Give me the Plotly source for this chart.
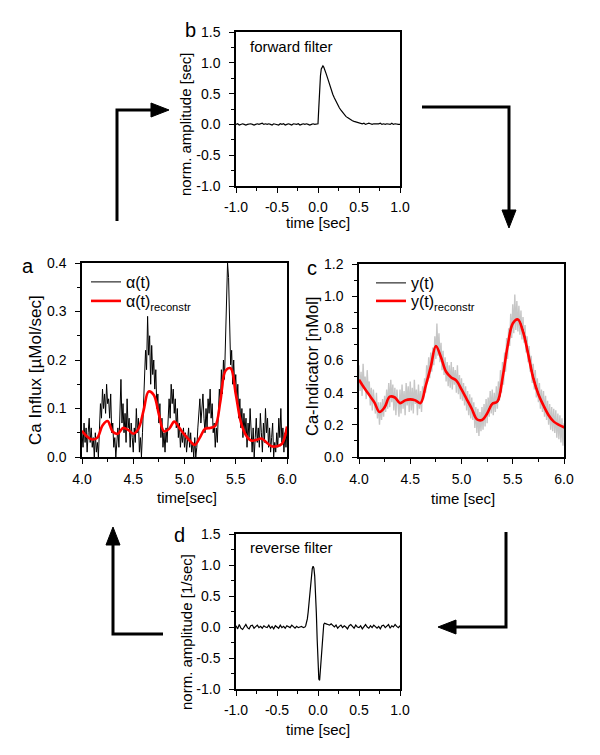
import numpy as np
import plotly.graph_objects as go

# the page body has an 8px margin, so the figure is drawn 8px smaller
# and every position below is given in pixels of the full 600x755 window
OFF = 8
FW, FH = 600 - OFF, 755 - OFF
FONT = "Arial, Liberation Sans, sans-serif"

# ---- panel b: forward filter
fwd_left = [0.00, 0.01, -0.01, 0.00, 0.01, 0.00, -0.01, 0.00, 0.01, 0.01,
            0.00, -0.01, 0.00, 0.01, 0.00, 0.01, 0.02, 0.00, 0.01, 0.00,
            0.01, 0.00, -0.01, 0.01, 0.00, 0.00, -0.01, 0.01, 0.00, 0.01,
            -0.01, 0.00, 0.01, 0.00, -0.01, 0.01, 0.00, 0.00, 0.01, -0.01,
            0.00, 0.01, 0.00, 0.01, 0.00, -0.01, 0.00, 0.01, 0.00, 0.00]
fwd_peak = [0.01, 0.28, 0.58, 0.79, 0.90, 0.94, 0.95, 0.93, 0.90, 0.86, 0.82]
fwd_decay = [0.74, 0.65, 0.57, 0.49, 0.43, 0.37, 0.32, 0.27, 0.23, 0.19,
             0.16, 0.13, 0.11, 0.09, 0.07, 0.06, 0.05, 0.04, 0.03, 0.03]
fwd_right = [0.02, 0.01, 0.02, 0.00, 0.01, 0.02, 0.01, 0.00, 0.01, 0.01,
             0.00, 0.01, 0.02, 0.00, 0.01, 0.00, 0.01, 0.01, 0.00, 0.02,
             0.00, 0.01, 0.00, 0.00, 0.00]
fwd_t = np.concatenate([np.linspace(-1.0, -0.02, len(fwd_left)),
                        np.linspace(0.0, 0.10, len(fwd_peak)),
                        np.linspace(0.12, 0.50, len(fwd_decay)),
                        np.linspace(0.52, 1.0, len(fwd_right))])
fwd_y = fwd_left + fwd_peak + fwd_decay + fwd_right

# ---- panel d: reverse filter
rev_left = [0.02, -0.03, 0.04, -0.02, -0.04, 0.01, 0.04, -0.01, -0.03, 0.02,
            0.03, -0.02, 0.00, 0.03, -0.01, 0.01, -0.02, 0.02, 0.00, -0.01,
            0.03, -0.02, 0.01, -0.03, 0.02, 0.00, -0.02, 0.03, -0.01, 0.01,
            -0.02, 0.02, 0.00, -0.01, 0.03, 0.00, -0.02, 0.01, -0.01, 0.00,
            0.01, -0.01]
rev_mid = [0.00, 0.02, 0.06, 0.13, 0.24, 0.38, 0.54, 0.70, 0.84, 0.94,
           0.98, 0.95, 0.82, 0.58, 0.22, -0.20, -0.58, -0.84, -0.86, -0.68,
           -0.42, -0.18, -0.03, 0.04, 0.06, 0.06, 0.05]
rev_right = [0.04, 0.03, 0.05, 0.02, 0.00, 0.03, -0.02, 0.01, 0.03, -0.01,
             0.02, 0.00, -0.03, 0.02, 0.04, 0.01, -0.02, 0.03, 0.00, -0.01,
             0.02, -0.03, 0.01, 0.04, 0.00, -0.02, 0.02, -0.01, 0.03, 0.00,
             -0.02, 0.01, -0.03, 0.02, 0.03, -0.01, 0.01, 0.04, -0.02, 0.02,
             0.00, 0.04, 0.01, -0.01, 0.02]
rev_t = np.concatenate([np.linspace(-1.0, -0.18, len(rev_left)),
                        np.linspace(-0.16, 0.10, len(rev_mid)),
                        np.linspace(0.12, 1.0, len(rev_right))])
rev_y = rev_left + rev_mid + rev_right

# ---- panel a: Ca influx
alpha = [0.05, 0.02, 0.07, 0.03, 0.06, 0.01, 0.05, 0.08, 0.03, 0.06,
         0.02, 0.04, 0.00, 0.05, 0.01, 0.03, 0.00, 0.06, 0.11, 0.08,
         0.14, 0.10, 0.13, 0.09, 0.15, 0.11, 0.12, 0.08, 0.13, 0.05,
         0.07, 0.02, 0.04, 0.00, 0.03, 0.06, 0.02, 0.10, 0.16, 0.07,
         0.11, 0.05, 0.09, 0.03, 0.12, 0.06, 0.08, 0.02, 0.07, 0.04,
         0.01, 0.06, 0.03, 0.10, 0.05, 0.08, 0.01, 0.04, 0.00, 0.05,
         0.12, 0.17, 0.22, 0.18, 0.29, 0.21, 0.25, 0.15, 0.23, 0.17,
         0.20, 0.14, 0.18, 0.10, 0.13, 0.07, 0.11, 0.04, 0.08, 0.02,
         0.05, 0.01, 0.06, 0.03, 0.09, 0.12, 0.08, 0.15, 0.11, 0.14,
         0.09, 0.12, 0.06, 0.10, 0.04, 0.07, 0.02, 0.05, 0.03, 0.06,
         0.02, 0.05, 0.01, 0.04, 0.06, 0.02, 0.05, 0.01, 0.03, 0.00,
         0.04, 0.00, 0.02, 0.06, 0.09, 0.12, 0.07, 0.11, 0.13, 0.08,
         0.05, 0.10, 0.06, 0.12, 0.09, 0.14, 0.08, 0.11, 0.05, 0.07,
         0.02, 0.06, 0.03, 0.09, 0.14, 0.11, 0.18, 0.13, 0.20, 0.16,
         0.26, 0.34, 0.40, 0.37, 0.30, 0.19, 0.22, 0.15, 0.20, 0.14,
         0.17, 0.11, 0.15, 0.08, 0.12, 0.06, 0.10, 0.04, 0.09, 0.05,
         0.08, 0.02, 0.07, 0.04, 0.10, 0.03, 0.01, 0.06, 0.00, 0.04,
         0.08, 0.03, 0.06, 0.02, 0.09, 0.05, 0.01, 0.07, 0.03, 0.10,
         0.05, 0.08, 0.02, 0.06, 0.01, 0.04, 0.07, 0.00, 0.03, 0.01,
         0.05, 0.02, 0.08, 0.04, 0.10, 0.03, 0.06, 0.01, 0.05, 0.02,
         0.06]
alpha_rec = [0.054, 0.042, 0.036, 0.040, 0.065, 0.074, 0.052, 0.048, 0.060, 0.056,
             0.048, 0.058, 0.095, 0.135, 0.128, 0.088, 0.053, 0.058, 0.073, 0.060,
             0.046, 0.034, 0.025, 0.040, 0.058, 0.060, 0.064, 0.115, 0.178, 0.183,
             0.130, 0.072, 0.045, 0.034, 0.035, 0.038, 0.030, 0.022, 0.022, 0.027,
             0.063]
t_alpha = np.linspace(4.0, 6.0, len(alpha))
t_alpha_rec = np.linspace(4.0, 6.0, len(alpha_rec))

# ---- panel c: Ca indicator
y_raw = [0.57, 0.41, 0.53, 0.38, 0.58, 0.43, 0.50, 0.36, 0.54, 0.40,
         0.47, 0.32, 0.43, 0.29, 0.42, 0.35, 0.27, 0.40, 0.24, 0.34,
         0.20, 0.34, 0.23, 0.36, 0.25, 0.38, 0.28, 0.42, 0.30, 0.46,
         0.31, 0.48, 0.34, 0.45, 0.29, 0.43, 0.26, 0.42, 0.32, 0.25,
         0.42, 0.27, 0.45, 0.30, 0.41, 0.26, 0.46, 0.32, 0.44, 0.28,
         0.47, 0.29, 0.43, 0.27, 0.48, 0.33, 0.42, 0.26, 0.45, 0.30,
         0.41, 0.28, 0.44, 0.36, 0.49, 0.40, 0.57, 0.47, 0.62, 0.49,
         0.65, 0.53, 0.68, 0.57, 0.75, 0.61, 0.83, 0.63, 0.77, 0.59,
         0.71, 0.54, 0.66, 0.51, 0.62, 0.47, 0.59, 0.44, 0.57, 0.43,
         0.59, 0.42, 0.56, 0.45, 0.54, 0.40, 0.57, 0.39, 0.51, 0.36,
         0.49, 0.35, 0.46, 0.32, 0.44, 0.29, 0.41, 0.26, 0.39, 0.24,
         0.37, 0.23, 0.34, 0.18, 0.31, 0.15, 0.30, 0.13, 0.28, 0.16,
         0.31, 0.17, 0.33, 0.19, 0.36, 0.21, 0.37, 0.25, 0.41, 0.27,
         0.42, 0.26, 0.40, 0.28, 0.44, 0.30, 0.47, 0.35, 0.54, 0.40,
         0.59, 0.45, 0.65, 0.53, 0.74, 0.61, 0.80, 0.69, 0.89, 0.74,
         0.95, 0.77, 1.01, 0.79, 0.97, 0.78, 0.94, 0.76, 0.91, 0.73,
         0.87, 0.71, 0.82, 0.65, 0.75, 0.59, 0.69, 0.53, 0.63, 0.46,
         0.58, 0.42, 0.54, 0.37, 0.49, 0.34, 0.46, 0.30, 0.42, 0.28,
         0.41, 0.25, 0.38, 0.23, 0.35, 0.20, 0.33, 0.17, 0.31, 0.16,
         0.30, 0.15, 0.29, 0.12, 0.27, 0.11, 0.26, 0.09, 0.24, 0.07,
         0.21]
y_true = [0.48, 0.43, 0.385, 0.34, 0.28, 0.31, 0.375, 0.37, 0.335, 0.352,
          0.358, 0.352, 0.335, 0.44, 0.56, 0.69, 0.62, 0.53, 0.495, 0.475,
          0.42, 0.36, 0.30, 0.235, 0.23, 0.27, 0.335, 0.34, 0.49, 0.69,
          0.83, 0.855, 0.79, 0.65, 0.50, 0.395, 0.32, 0.26, 0.22, 0.20,
          0.18]
y_rec = [0.48, 0.43, 0.385, 0.34, 0.28, 0.31, 0.375, 0.37, 0.335, 0.352,
         0.358, 0.352, 0.335, 0.44, 0.56, 0.69, 0.62, 0.53, 0.495, 0.475,
         0.42, 0.36, 0.30, 0.235, 0.23, 0.27, 0.33, 0.345, 0.49, 0.69,
         0.83, 0.855, 0.78, 0.64, 0.49, 0.39, 0.32, 0.26, 0.22, 0.20,
         0.185]
t_raw = np.linspace(4.0, 6.0, len(y_raw))
t_y = np.linspace(4.0, 6.0, len(y_rec))

# tick labels
filt_xticks = [-1.0, -0.5, 0.0, 0.5, 1.0]
filt_yticks = [-1.0, -0.5, 0.0, 0.5, 1.0, 1.5]
time_ticks = [4.0, 4.5, 5.0, 5.5, 6.0]
influx_ticks = [0.0, 0.1, 0.2, 0.3, 0.4]
indicator_ticks = [0.0, 0.2, 0.4, 0.6, 0.8, 1.0, 1.2]


def fx(x):
    return (x - OFF) / FW


def fy(y):
    return 1 - (y - OFF) / FH


def xd(a, b):
    return [fx(a), fx(b)]


def yd(top, bottom):
    return [fy(bottom), fy(top)]


def axis(rng, ticks, minor_step, dom, anchor, standoff):
    return dict(range=rng, domain=dom, anchor=anchor, automargin=False,
                tickmode="array", tickvals=ticks, ticktext=[f"{v:.1f}" for v in ticks],
                ticks="outside", ticklen=5, tickwidth=1, tickcolor="black",
                ticklabelstandoff=standoff,
                minor=dict(tickmode="array",
                           tickvals=list(np.arange(rng[0], rng[1] + minor_step / 2, minor_step)),
                           ticks="outside", ticklen=3, tickwidth=1, tickcolor="black"),
                showline=True, linecolor="black", linewidth=1.5, mirror=True,
                showgrid=False, zeroline=False,
                tickfont=dict(family=FONT, size=14, color="black"))


def legend_box(x, y):
    return dict(x=fx(x), y=fy(y), xanchor="left", yanchor="middle",
                bgcolor="rgba(0,0,0,0)", font=dict(family=FONT, size=16, color="black"))


fig = go.Figure()
fig.add_trace(go.Scatter(x=fwd_t, y=fwd_y, mode="lines", line=dict(color="black", width=1.2),
                         xaxis="x", yaxis="y", showlegend=False))
fig.add_trace(go.Scatter(x=t_alpha, y=alpha, mode="lines", line=dict(color="black", width=1),
                         xaxis="x2", yaxis="y2", name="α(t)", legend="legend"))
fig.add_trace(go.Scatter(x=t_alpha_rec, y=alpha_rec, mode="lines",
                         line=dict(color="#ff0000", width=2.6, shape="spline"),
                         xaxis="x2", yaxis="y2", name="α(t)<sub>reconstr</sub>", legend="legend2"))
fig.add_trace(go.Scatter(x=t_raw, y=y_raw, mode="lines", line=dict(color="#c6c6c6", width=1.4),
                         xaxis="x3", yaxis="y3", showlegend=False))
fig.add_trace(go.Scatter(x=t_y, y=y_true, mode="lines", line=dict(color="black", width=1, shape="spline"),
                         xaxis="x3", yaxis="y3", name="y(t)", legend="legend3"))
fig.add_trace(go.Scatter(x=t_y, y=y_rec, mode="lines", line=dict(color="#ff0000", width=2.6, shape="spline"),
                         xaxis="x3", yaxis="y3", name="y(t)<sub>reconstr</sub>", legend="legend4"))
fig.add_trace(go.Scatter(x=rev_t, y=rev_y, mode="lines", line=dict(color="black", width=1.2),
                         xaxis="x4", yaxis="y4", showlegend=False))

fig.update_layout(
    width=FW, height=FH, margin=dict(l=0, r=0, t=0, b=0, autoexpand=False),
    paper_bgcolor="white", plot_bgcolor="white",
    font=dict(family=FONT, color="black"),
    xaxis=axis([-1, 1], filt_xticks, 0.25, xd(236, 400), "y", 2),
    yaxis=axis([-1, 1.5], filt_yticks, 0.25, yd(32, 186), "x", 6),
    xaxis2=axis([4, 6], time_ticks, 0.25, xd(82, 287), "y2", 3),
    yaxis2=axis([0, 0.4], influx_ticks, 0.05, yd(263, 457), "x2", 6),
    xaxis3=axis([4, 6], time_ticks, 0.25, xd(359, 564), "y3", 3),
    yaxis3=axis([0, 1.2], indicator_ticks, 0.1, yd(264, 457), "x3", 6),
    xaxis4=axis([-1, 1], filt_xticks, 0.25, xd(236, 400), "y4", 2),
    yaxis4=axis([-1, 1.5], filt_yticks, 0.25, yd(534, 689), "x4", 6),
    legend=legend_box(86, 282),
    legend2=legend_box(86, 301),
    legend3=legend_box(371, 283),
    legend4=legend_box(371, 301),
)


def note(text, x, y, size=15, angle=0, xanchor="center"):
    fig.add_annotation(text=text, x=fx(x), y=fy(y), xref="paper", yref="paper",
                       showarrow=False, textangle=angle, xanchor=xanchor, yanchor="middle",
                       font=dict(family=FONT, size=size, color="black"))


# axis titles
note("norm. amplitude [sec]", 186, 125, 15, -90)
note("time [sec]", 318, 222)
note("Ca Influx [µMol/sec]", 35, 370, 17, -90)
note("time[sec]", 187, 497)
note("Ca-Indicator [nMol]", 312, 367, 16.5, -90)
note("time [sec]", 463, 498)
note("norm. amplitude [1/sec]", 186, 632, 15, -90)
note("time [sec]", 318, 729)
# in-plot labels
note("forward filter", 248, 47, 15, xanchor="left")
note("reverse filter", 248, 547, 15, xanchor="left")
# panel letters
note("b", 190, 30, 20)
note("a", 28, 266, 20)
note("c", 312, 268, 20)
note("d", 180, 535, 20)


def P(x, y):
    return f"{fx(x):.5f},{fy(y):.5f}"


# flow arrows
lines = [
    [(117, 221), (117, 110), (152, 110)],
    [(422, 107), (509, 107), (509, 210)],
    [(506, 532), (506, 627), (455, 627)],
    [(163, 634), (113, 634), (113, 545)],
]
heads = [
    [(169, 110), (151, 103), (151, 117)],
    [(509, 228), (502, 210), (516, 210)],
    [(438, 627), (456, 620), (456, 634)],
    [(113, 527), (106, 545), (120, 545)],
]
for pts in lines:
    path = "M " + " L ".join(P(*p) for p in pts)
    fig.add_shape(type="path", path=path, xref="paper", yref="paper",
                  line=dict(color="black", width=3))
for pts in heads:
    path = "M " + " L ".join(P(*p) for p in pts) + " Z"
    fig.add_shape(type="path", path=path, xref="paper", yref="paper",
                  line=dict(color="black", width=1), fillcolor="black")

fig.write_html("out.html")
